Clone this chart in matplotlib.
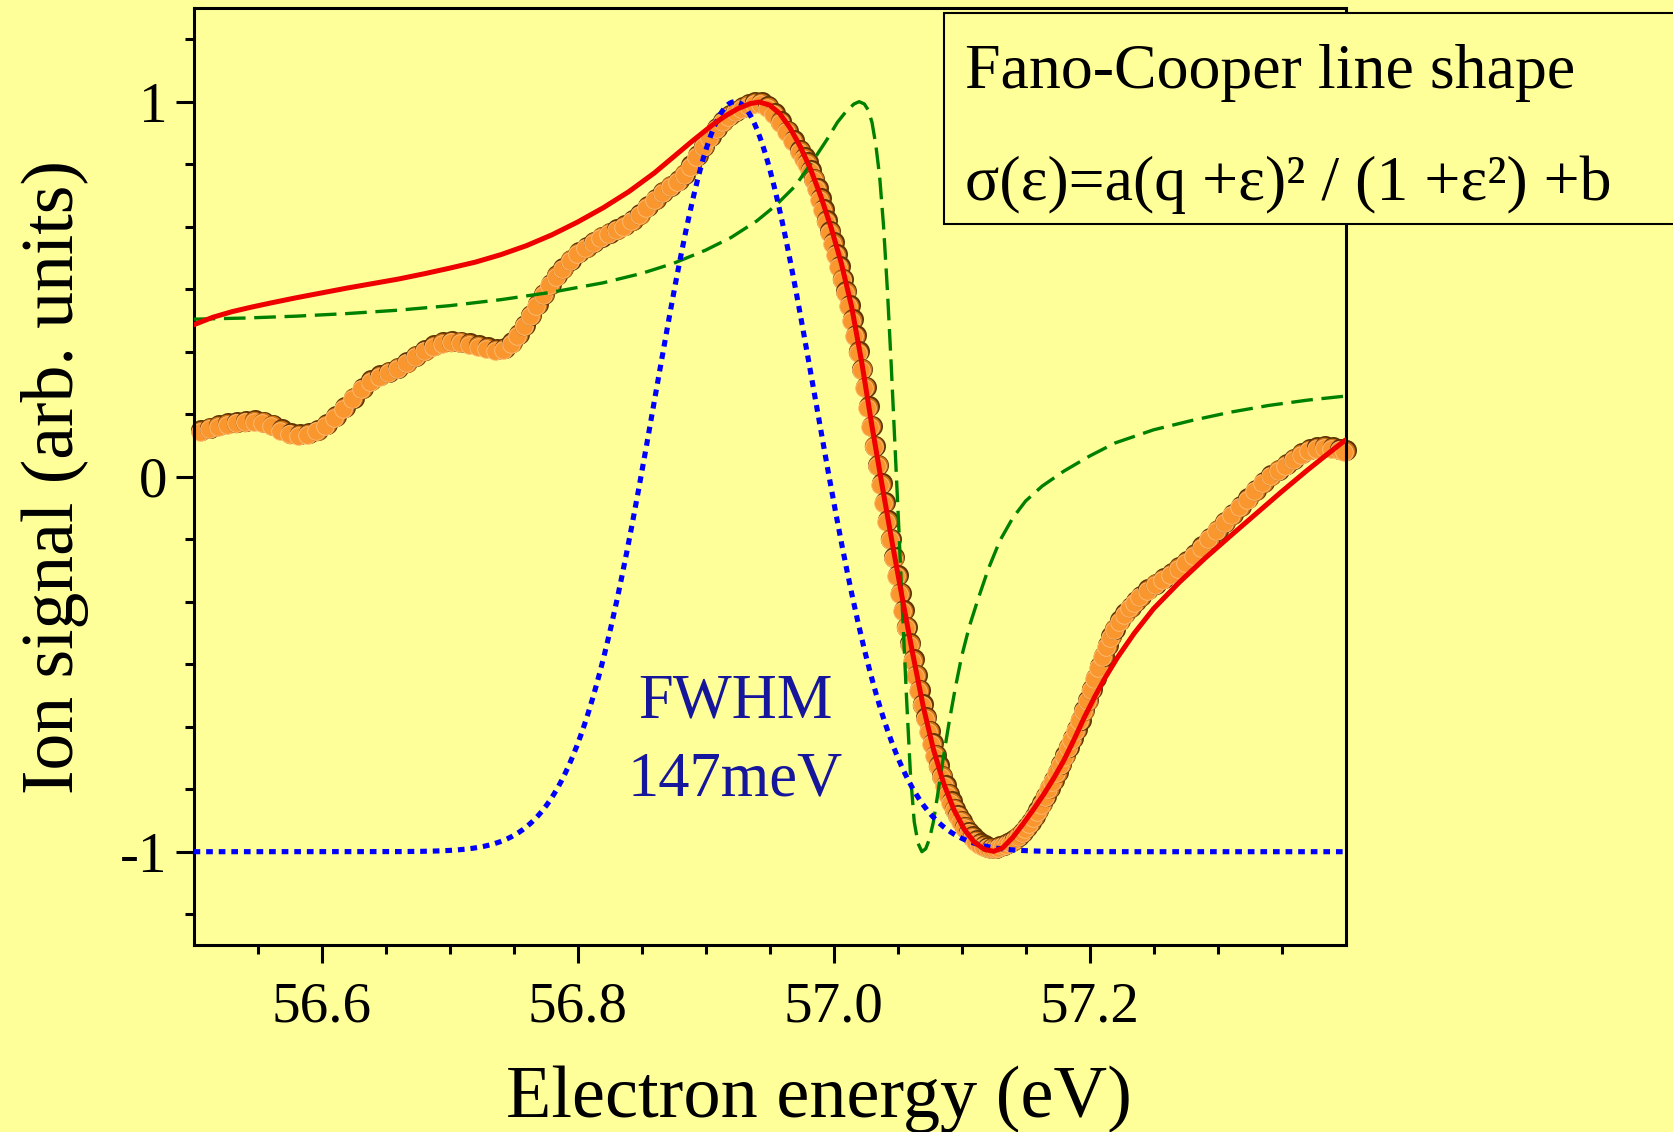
import numpy as np
import matplotlib
matplotlib.use("Agg")
import matplotlib.pyplot as plt
import matplotlib.transforms as mtransforms
from matplotlib.patches import Rectangle
from matplotlib.ticker import FixedLocator, MultipleLocator, FormatStrFormatter

plt.rcParams["font.family"] = ["Liberation Serif", "DejaVu Serif"]
plt.rcParams["axes.unicode_minus"] = False

BG = "#ffff99"

# measured ion signal (normalised), electron energy in eV
data_x = [
    56.506, 56.513, 56.520, 56.527, 56.534, 56.541, 56.548, 56.555, 56.562, 56.569,
    56.576, 56.583, 56.590, 56.597, 56.604, 56.611, 56.618, 56.625, 56.632, 56.639,
    56.646, 56.653, 56.660, 56.667, 56.674, 56.681, 56.688, 56.695, 56.702, 56.709,
    56.716, 56.723, 56.730, 56.737, 56.743, 56.749, 56.754, 56.759, 56.764, 56.769,
    56.774, 56.779, 56.784, 56.789, 56.795, 56.801, 56.807, 56.813, 56.819, 56.825,
    56.831, 56.837, 56.843, 56.849, 56.855, 56.861, 56.867, 56.873, 56.879, 56.884,
    56.889, 56.894, 56.899, 56.904, 56.909, 56.914, 56.919, 56.924, 56.929, 56.934,
    56.939, 56.944, 56.949, 56.954, 56.959, 56.964, 56.969, 56.974,
    56.9775, 56.9800, 56.9825, 56.9850, 56.9875, 56.9900, 56.9925, 56.9950, 56.9975,
    57.0000, 57.0025, 57.0050, 57.0075, 57.0100, 57.0125, 57.0150, 57.0175, 57.0200,
    57.0225, 57.0250, 57.0275, 57.0300, 57.0325, 57.0350, 57.0375, 57.0400, 57.0425,
    57.0450, 57.0475, 57.0500, 57.0525, 57.0550, 57.0575, 57.0600, 57.0625, 57.0650,
    57.0675, 57.0700, 57.0725, 57.0750, 57.0775, 57.0800, 57.0825, 57.0850, 57.0875,
    57.0900, 57.0925, 57.0950, 57.0975, 57.1000,
    57.103, 57.106, 57.109, 57.112, 57.115, 57.118, 57.121, 57.124, 57.127, 57.130,
    57.133, 57.136, 57.139, 57.142, 57.145, 57.148, 57.151, 57.154, 57.157, 57.160,
    57.163, 57.166, 57.169, 57.172, 57.175, 57.178, 57.181, 57.184, 57.187, 57.190,
    57.193, 57.196, 57.199, 57.202, 57.205, 57.208, 57.211, 57.214, 57.217, 57.220,
    57.224, 57.228, 57.232, 57.236, 57.240,
    57.246, 57.252, 57.258, 57.264, 57.270, 57.276, 57.282, 57.288, 57.294, 57.300,
    57.306, 57.312, 57.318, 57.324, 57.330, 57.336, 57.342, 57.348, 57.354, 57.360,
    57.366, 57.372, 57.378, 57.384, 57.390, 57.396, 57.400,
]
data_y = [
    0.124, 0.131, 0.137, 0.142, 0.146, 0.149, 0.150, 0.147, 0.139, 0.127,
    0.117, 0.113, 0.116, 0.125, 0.140, 0.161, 0.185, 0.211, 0.237, 0.257,
    0.270, 0.280, 0.291, 0.306, 0.323, 0.338, 0.351, 0.359, 0.362, 0.360,
    0.356, 0.351, 0.345, 0.340, 0.343, 0.358, 0.380, 0.405, 0.432, 0.460,
    0.488, 0.514, 0.537, 0.557, 0.579, 0.598, 0.613, 0.627, 0.640, 0.651,
    0.661, 0.671, 0.685, 0.701, 0.721, 0.741, 0.760, 0.776, 0.790, 0.808,
    0.831, 0.857, 0.883, 0.908, 0.930, 0.949, 0.964, 0.976, 0.985, 0.993,
    0.998, 0.998, 0.988, 0.970, 0.948, 0.923, 0.898, 0.871,
    0.852, 0.838, 0.818, 0.795, 0.770, 0.743, 0.714, 0.684, 0.654,
    0.625, 0.594, 0.562, 0.528, 0.494, 0.458, 0.420, 0.378, 0.334,
    0.288, 0.240, 0.188, 0.136, 0.083, 0.032, -0.018, -0.067, -0.116,
    -0.165, -0.214, -0.262, -0.309, -0.355, -0.400, -0.444, -0.487, -0.528,
    -0.568, -0.606, -0.642, -0.677, -0.710, -0.741, -0.770, -0.797, -0.822,
    -0.845, -0.866, -0.885, -0.902, -0.917,
    -0.933, -0.947, -0.959, -0.969, -0.977, -0.983, -0.987, -0.989, -0.989, -0.986,
    -0.982, -0.978, -0.972, -0.966, -0.957, -0.947, -0.935, -0.921, -0.906, -0.889,
    -0.871, -0.851, -0.830, -0.809, -0.787, -0.765, -0.743, -0.720, -0.697, -0.673,
    -0.648, -0.622, -0.595, -0.566, -0.536, -0.506, -0.477, -0.450, -0.426, -0.405,
    -0.383, -0.364, -0.347, -0.332, -0.318,
    -0.300, -0.285, -0.271, -0.257, -0.242, -0.226, -0.207, -0.186, -0.163, -0.141,
    -0.120, -0.099, -0.078, -0.057, -0.035, -0.014, 0.005, 0.019, 0.033, 0.048,
    0.062, 0.073, 0.079, 0.081, 0.078, 0.074, 0.071,
]

# convoluted Fano-Cooper fit
fit_x = [
    56.500, 56.515, 56.530, 56.545, 56.560, 56.580, 56.600, 56.620, 56.640, 56.660,
    56.680, 56.700, 56.720, 56.740, 56.760, 56.780, 56.800, 56.820, 56.840, 56.860,
    56.875, 56.890, 56.905, 56.915, 56.925, 56.935, 56.942, 56.950, 56.958, 56.966,
    56.974, 56.982, 56.990, 56.998, 57.006, 57.014, 57.022, 57.030, 57.038, 57.046,
    57.054, 57.062, 57.070, 57.078, 57.086, 57.094, 57.102, 57.110, 57.118, 57.125,
    57.132, 57.140, 57.148, 57.156, 57.164, 57.172, 57.180, 57.188, 57.196, 57.204,
    57.212, 57.222, 57.235, 57.250, 57.270, 57.290, 57.310, 57.330, 57.350, 57.370,
    57.385, 57.400,
]
fit_y = [
    0.405, 0.425, 0.440, 0.452, 0.463, 0.477, 0.490, 0.503, 0.515, 0.527,
    0.541, 0.556, 0.572, 0.592, 0.616, 0.645, 0.679, 0.717, 0.760, 0.810,
    0.853, 0.896, 0.937, 0.961, 0.981, 0.995, 0.999, 0.991, 0.968, 0.930,
    0.880, 0.820, 0.748, 0.665, 0.570, 0.455, 0.305, 0.135, -0.025, -0.180,
    -0.330, -0.475, -0.612, -0.727, -0.818, -0.888, -0.940, -0.975, -0.994, -0.999,
    -0.990, -0.962, -0.926, -0.888, -0.848, -0.804, -0.756, -0.700, -0.641, -0.587,
    -0.537, -0.481, -0.417, -0.352, -0.282, -0.218, -0.158, -0.099, -0.040, 0.017,
    0.058, 0.098,
]

# bare Fano-Cooper profile
fano_x = [
    56.500, 56.540, 56.580, 56.620, 56.660, 56.700, 56.740, 56.780, 56.820, 56.850,
    56.875, 56.900, 56.920, 56.940, 56.955, 56.970, 56.985, 56.995, 57.003, 57.010,
    57.016, 57.020, 57.024, 57.027, 57.030, 57.033, 57.036, 57.039, 57.042, 57.045,
    57.048, 57.051, 57.054, 57.057, 57.060, 57.063, 57.066, 57.069, 57.072, 57.075,
    57.078, 57.081, 57.085, 57.090, 57.095, 57.100, 57.106, 57.113, 57.121, 57.130,
    57.140, 57.150, 57.163, 57.180, 57.200, 57.220, 57.250, 57.280, 57.310, 57.340,
    57.370, 57.400,
]
fano_y = [
    0.420, 0.423, 0.428, 0.435, 0.444, 0.456, 0.472, 0.492, 0.517, 0.542,
    0.569, 0.604, 0.638, 0.682, 0.724, 0.775, 0.848, 0.900, 0.945, 0.975,
    0.994, 1.000, 0.994, 0.978, 0.945, 0.885, 0.800, 0.670, 0.500, 0.300,
    0.080, -0.140, -0.370, -0.590, -0.790, -0.920, -0.978, -1.000, -0.992, -0.965,
    -0.920, -0.855, -0.765, -0.660, -0.565, -0.480, -0.400, -0.325, -0.245, -0.170,
    -0.110, -0.065, -0.025, 0.015, 0.055, 0.090, 0.125, 0.150, 0.172, 0.190,
    0.204, 0.215,
]

# instrument function (Gaussian), normalised to the same -1..1 scale
gauss_center = 56.923
gauss_fwhm = 0.147  # eV

fig = plt.figure(figsize=(16.73, 11.32), dpi=100, facecolor=BG)
ax = fig.add_axes([0.1157, 0.1648, 0.6886, 0.8282], facecolor=BG)

xg = np.linspace(56.5, 57.4, 900)
sigma = gauss_fwhm / (2 * np.sqrt(2 * np.log(2)))
yg = -1 + 2 * np.exp(-0.5 * ((xg - gauss_center) / sigma) ** 2)

# shaded beads: dark body, orange face shifted towards lower left
dots = 21 * 72 / 100.0
mid_shift = mtransforms.offset_copy(ax.transData, fig=fig, x=-0.7, y=-0.7, units="dots")
face_shift = mtransforms.offset_copy(ax.transData, fig=fig, x=-1.5, y=-1.5, units="dots")
for x, y in zip(data_x, data_y):
    ax.plot(x, y, "o", ms=dots, mfc="#603405", mec="none", zorder=2, clip_on=False)
    ax.plot(x, y, "o", ms=dots * 0.93, mfc="#d27614", mec="none", zorder=2,
            clip_on=False, transform=mid_shift)
    ax.plot(x, y, "o", ms=dots * 0.84, mfc="#f9962e", mec="#ffc07a", mew=0.6,
            zorder=2, clip_on=False, transform=face_shift)

ax.plot(fano_x, fano_y, color="#008000", lw=2.4, ls=(0, (6.5, 2.6)), zorder=3)
ax.plot(xg, yg, color="#0000ff", lw=3.7, ls=(0, (1.3, 1.15)),
        dash_capstyle="butt", zorder=4)
ax.plot(fit_x, fit_y, color="#ee0000", lw=3.6, zorder=5, solid_capstyle="round")

ax.text(gauss_center, -0.641, "FWHM", ha="center", va="baseline",
        fontsize=45, color="#16169c", zorder=6)
ax.text(gauss_center, -0.849, "%dmeV" % round(gauss_fwhm * 1000), ha="center",
        va="baseline", fontsize=45, color="#16169c", zorder=6)

ax.set_xlim(56.5, 57.4)
ax.set_ylim(-1.25, 1.25)

ax.xaxis.set_major_locator(FixedLocator([56.6, 56.8, 57.0, 57.2]))
ax.xaxis.set_minor_locator(FixedLocator(np.arange(56.55, 57.37, 0.05)))
ax.xaxis.set_major_formatter(FormatStrFormatter("%.1f"))
ax.yaxis.set_major_locator(MultipleLocator(1))
ax.yaxis.set_minor_locator(MultipleLocator(1 / 6))
ax.yaxis.set_major_formatter(FormatStrFormatter("%d"))

ax.tick_params(which="both", direction="out", top=False, right=False, width=2.2)
ax.tick_params(which="major", length=12.7, labelsize=41)
ax.tick_params(axis="x", which="major", pad=13)
ax.tick_params(axis="y", which="major", pad=6)
ax.tick_params(which="minor", length=6.7)
for sp in ax.spines.values():
    sp.set_linewidth(2.2)

ax.set_xlabel("Electron energy (eV)", fontsize=53.5)
ax.xaxis.set_label_coords(0.5425, -0.128)
ax.set_ylabel("Ion signal (arb. units)", fontsize=53)
ax.yaxis.set_label_coords(-0.0905, 0.5)

# formula box in the upper right corner
box = Rectangle((0.5643, 0.8021), 0.5, 0.1864, transform=fig.transFigure,
                facecolor=BG, edgecolor="black", lw=1.5, zorder=10)
fig.add_artist(box)
fig.text(0.5768, 0.9227, "Fano-Cooper line shape", fontsize=46,
         va="baseline", zorder=11)
fig.text(0.5768, 0.8233, "σ(ε)=a(q +ε)² / (1 +ε²) +b", fontsize=46,
         va="baseline", zorder=11)

fig.savefig("out.png", dpi=100, facecolor=BG)
plt.close(fig)
